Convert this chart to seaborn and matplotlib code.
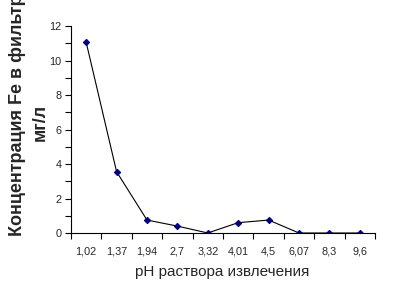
import matplotlib
matplotlib.use("Agg")
import matplotlib.pyplot as plt
import seaborn as sns
import numpy as np
from matplotlib.ticker import MultipleLocator, FixedLocator

ph_labels = ["1,02", "1,37", "1,94", "2,7", "3,32", "4,01", "4,5", "6,07", "8,3", "9,6"]
fe_conc = [11.05, 3.55, 0.75, 0.4, 0.0, 0.6, 0.75, 0.0, 0.0, 0.0]
y_ticks = [0, 2, 4, 6, 8, 10, 12]

sns.set_style("white")
plt.rcParams["font.family"] = ["Liberation Sans", "DejaVu Sans"]

fig = plt.figure(figsize=(4.01, 3.02), dpi=100)
ax = fig.add_axes([71/401, 1-233/302, (375-71)/401, (233-26)/302])

idx = np.arange(len(ph_labels))
sns.lineplot(x=idx, y=fe_conc, ax=ax, color="black", linewidth=0.8,
             marker="D", markersize=3.2, markerfacecolor="#000080",
             markeredgecolor="#000080")

ax.set_xlim(-0.5, len(ph_labels) - 0.5)
ax.set_ylim(0, 12)
ax.set_xticks(idx)
ax.set_xticklabels(ph_labels, fontsize=7.8)
ax.xaxis.set_minor_locator(FixedLocator(np.arange(-0.5, len(ph_labels), 1.0)))
ax.tick_params(axis="x", which="major", length=0, pad=10)
ax.tick_params(axis="x", which="minor", length=4, width=0.8, color="black", direction="out", bottom=True)
ax.set_yticks(y_ticks)
ax.set_yticklabels([str(v) for v in y_ticks], fontsize=7.8)
ax.yaxis.set_minor_locator(MultipleLocator(1))
ax.tick_params(axis="y", which="both", length=4, width=0.8, color="black", direction="out", left=True, pad=3)

for s in ["top", "right"]:
    ax.spines[s].set_visible(False)
for s in ["left", "bottom"]:
    ax.spines[s].set_color("black")
    ax.spines[s].set_linewidth(0.8)

fig.text(222/401, 1-272/302, "pH раствора извлечения", ha="center", va="center", fontsize=11)
fig.text(18/401, 1-236/302, "Концентрация Fe в фильтрате,", rotation=90,
         ha="center", va="bottom", fontsize=13, fontweight="bold")
fig.text(40/401, 1-122/302, "мг/л", rotation=90,
         ha="center", va="center", fontsize=13, fontweight="bold")

fig.savefig("out.png", dpi=100, facecolor="white")
